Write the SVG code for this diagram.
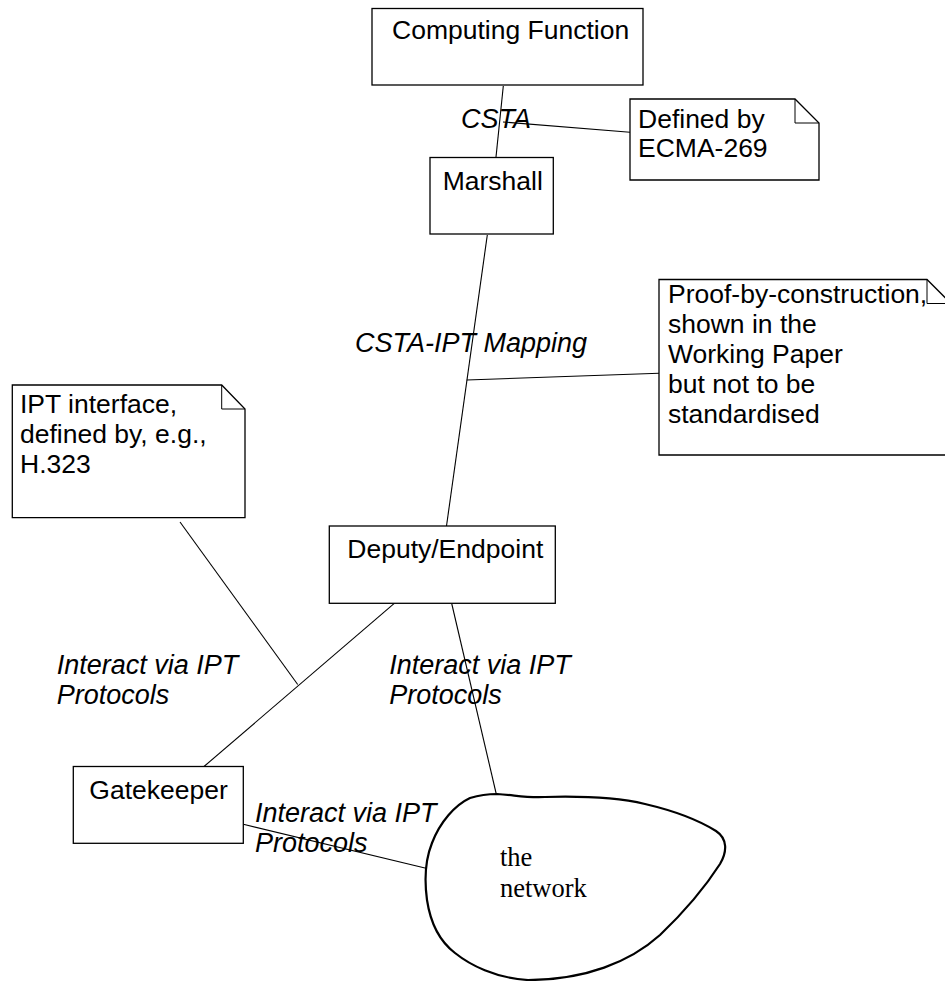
<svg xmlns="http://www.w3.org/2000/svg" width="945" height="981" viewBox="0 0 945 981">
  <style>
    .box { fill: #fff; stroke: #000; stroke-width: 1.3; }
    .note { fill: #fff; stroke: #000; stroke-width: 1.3; }
    .fold { fill: none; stroke: #000; stroke-width: 1; }
    .cloud { fill: #fff; stroke: #000; stroke-width: 2.2; }
    .link { fill: none; stroke: #000; stroke-width: 1.1; }
    .lbl { font-family: "Liberation Sans", Arial, sans-serif; font-size: 26.5px; fill: #000; }
    .it { font-style: italic; font-size: 27px; }
    .serif { font-family: "Liberation Serif", "Times New Roman", serif; font-size: 26.5px; fill: #000; }
  </style>

  <!-- connectors -->
  <g id="connectors">
    <line class="link" x1="503.3" y1="86" x2="496" y2="157"/>
    <line class="link" x1="503" y1="122" x2="630" y2="132.3"/>
    <line class="link" x1="487.3" y1="235" x2="446.5" y2="526"/>
    <line class="link" x1="466.7" y1="380" x2="659" y2="373.3"/>
    <line class="link" x1="394.3" y1="603.3" x2="204" y2="766.5"/>
    <line class="link" x1="180" y1="522" x2="297.7" y2="684.5"/>
    <line class="link" x1="451.7" y1="603.5" x2="496.5" y2="795"/>
    <line class="link" x1="243.3" y1="824.3" x2="426" y2="868.3"/>
  </g>

  <!-- labels on connectors -->
  <g id="connector-labels">
    <text class="lbl it" x="461" y="128">CSTA</text>
    <text class="lbl it" x="355" y="352">CSTA-IPT Mapping</text>
    <text class="lbl it" x="56.7" y="674">Interact via IPT</text>
    <text class="lbl it" x="56.7" y="704">Protocols</text>
    <text class="lbl it" x="389.3" y="674">Interact via IPT</text>
    <text class="lbl it" x="389.3" y="704">Protocols</text>
    <text class="lbl it" x="255" y="822">Interact via IPT</text>
    <text class="lbl it" x="255" y="852">Protocols</text>
  </g>

  <g id="computing-function">
    <rect class="box" x="372" y="8.5" width="271" height="76.5"/>
    <text class="lbl" x="392" y="39">Computing Function</text>
  </g>

  <g id="marshall">
    <rect class="box" x="430" y="157.5" width="123.3" height="76.5"/>
    <text class="lbl" x="442.7" y="190">Marshall</text>
  </g>

  <g id="note-ecma">
    <path class="note" d="M630,99 H795 L819,123 V180 H630 Z"/>
    <path class="fold" d="M795,99 V123 H819"/>
    <text class="lbl" x="638" y="128">Defined by</text>
    <text class="lbl" x="638" y="157">ECMA-269</text>
  </g>

  <g id="note-proof">
    <path class="note" d="M659,279.5 H927 L951,303.5 V455 H659 Z"/>
    <path class="fold" d="M927,279.5 V303.5 H951"/>
    <text class="lbl" x="668" y="303">Proof-by-construction,</text>
    <text class="lbl" x="668" y="333">shown in the</text>
    <text class="lbl" x="668" y="363">Working Paper</text>
    <text class="lbl" x="668" y="393">but not to be</text>
    <text class="lbl" x="668" y="423">standardised</text>
  </g>

  <g id="note-ipt">
    <path class="note" d="M12.3,385 H221.7 L245,409 V517.7 H12.3 Z"/>
    <path class="fold" d="M221.7,385 V409 H245"/>
    <text class="lbl" x="20" y="413">IPT interface,</text>
    <text class="lbl" x="20" y="443">defined by, e.g.,</text>
    <text class="lbl" x="20" y="473">H.323</text>
  </g>

  <g id="deputy-endpoint">
    <rect class="box" x="329.3" y="526" width="226" height="77.3"/>
    <text class="lbl" x="347.3" y="558">Deputy/Endpoint</text>
  </g>

  <g id="gatekeeper">
    <rect class="box" x="73.3" y="766.5" width="170" height="76.8"/>
    <text class="lbl" x="89.3" y="798.5">Gatekeeper</text>
  </g>

  <g id="network">
    <path class="cloud" d="M497,794 C515,795 525,798 545,797 C580,796 615,797 645,804 C675,811 700,821 716,831 C728,839 727,852 720,864 C702,892 682,914 660,935 C630,962 585,980 528,980 C495,978 470,965 455,953 C438,940 430,920 427,900 C424,878 426,858 432,843 C440,822 455,805 470,798 C480,795 490,794 497,794 Z"/>
    <text class="serif" x="500" y="866">the</text>
    <text class="serif" x="500" y="896.5">network</text>
  </g>
</svg>
